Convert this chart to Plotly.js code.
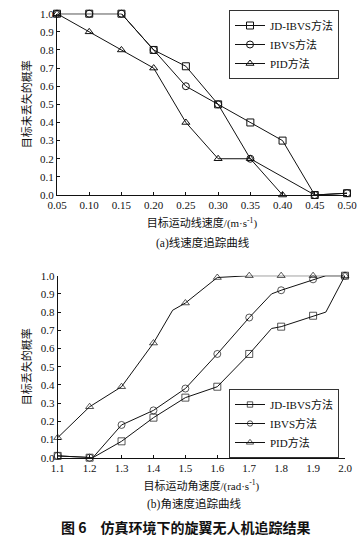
<!DOCTYPE html>
<html>
<head>
<meta charset="utf-8">
<script src="https://cdn.plot.ly/plotly-3.0.1.min.js"></script>
<style>html,body{margin:0;padding:0;background:#fff;}#chart{width:361px;height:548px;}</style>
</head>
<body>
<div id="chart"></div>
<script>
// ---- (a) linear speed: probability target is NOT lost ----
const speedX = [0.05, 0.10, 0.15, 0.20, 0.25, 0.30, 0.35, 0.40, 0.45, 0.50];
const aJdY = [1.0, 1.0, 1.0, 0.80, 0.71, 0.50, 0.40, 0.30, 0.0, 0.01];
const aIbvsX = [0.05, 0.10, 0.15, 0.20, 0.25, 0.30, 0.35, 0.45, 0.50];
const aIbvsY = [1.0, 1.0, 1.0, 0.80, 0.60, 0.50, 0.20, 0.0, 0.01];
const aPidX = [0.05, 0.10, 0.15, 0.20, 0.25, 0.30, 0.35, 0.40];
const aPidY = [1.0, 0.90, 0.80, 0.70, 0.40, 0.20, 0.20, 0.0];

// ---- (b) angular speed: probability target is lost ----
const bJdX = [1.1, 1.2, 1.21, 1.3, 1.4, 1.5, 1.6, 1.7, 1.77, 1.8, 1.9, 1.94, 2.0];
const bJdY = [0.01, 0.0, 0.0, 0.09, 0.22, 0.33, 0.39, 0.57, 0.71, 0.72, 0.78, 0.80, 1.0];
const bJdMarked = [1, 1, 0, 1, 1, 1, 1, 1, 0, 1, 1, 0, 1];
const bIbvsX = [1.1, 1.2, 1.21, 1.3, 1.4, 1.5, 1.6, 1.7, 1.77, 1.8, 1.9, 1.94, 2.0];
const bIbvsY = [0.01, 0.0, 0.0, 0.18, 0.26, 0.38, 0.57, 0.77, 0.90, 0.92, 0.98, 1.0, 1.0];
const bIbvsMarked = [1, 1, 0, 1, 1, 1, 1, 1, 0, 1, 1, 0, 1];
const bPidX = [1.1, 1.2, 1.3, 1.4, 1.46, 1.5, 1.6, 1.7, 1.8, 1.9, 2.0];
const bPidY = [0.11, 0.28, 0.39, 0.63, 0.81, 0.85, 0.99, 1.0, 1.0, 1.0, 1.0];
const bPidMarked = [1, 1, 1, 1, 0, 1, 1, 1, 1, 1, 1];

const seriesNames = ['JD-IBVS方法', 'IBVS方法', 'PID方法'];
const symbols = ['square-open', 'circle-open', 'triangle-up-open'];
const xTicksA = [0.05, 0.10, 0.15, 0.20, 0.25, 0.30, 0.35, 0.40, 0.45, 0.50];
const xTicksB = [1.1, 1.2, 1.3, 1.4, 1.5, 1.6, 1.7, 1.8, 1.9, 2.0];
const yTicks = [0, 0.1, 0.2, 0.3, 0.4, 0.5, 0.6, 0.7, 0.8, 0.9, 1.0];

const FONT = '"Liberation Serif", "Times New Roman", "Noto Sans CJK SC", serif';
const MS = 7;
function sizes(flags) { return flags.map(f => f ? MS : 0); }
function tr(x, y, i, xa, ya, leg, sz) {
  return {
    x: x, y: y, xaxis: xa, yaxis: ya, legend: leg,
    type: 'scatter', mode: 'lines+markers', name: seriesNames[i],
    cliponaxis: false,
    line: {color: '#111', width: 1},
    marker: {symbol: symbols[i], size: sz || MS, color: '#111', line: {color: '#111', width: 1}}
  };
}
const traces = [
  tr(speedX, aJdY, 0, 'x', 'y', 'legend'),
  tr(aIbvsX, aIbvsY, 1, 'x', 'y', 'legend'),
  tr(aPidX, aPidY, 2, 'x', 'y', 'legend'),
  tr(bJdX, bJdY, 0, 'x2', 'y2', 'legend2', sizes(bJdMarked)),
  tr(bIbvsX, bIbvsY, 1, 'x2', 'y2', 'legend2', sizes(bIbvsMarked)),
  tr(bPidX, bPidY, 2, 'x2', 'y2', 'legend2', sizes(bPidMarked))
];

const W = 361, H = 548;
function axisCommon() {
  return {
    showgrid: false, zeroline: false, showline: true, linecolor: '#111', linewidth: 1,
    ticks: 'inside', ticklen: 3, tickcolor: '#111', tickwidth: 1,
    tickfont: {family: FONT, size: 11, color: '#111'},
    automargin: false, fixedrange: true
  };
}
const legendCommon = {
  bgcolor: '#fff', bordercolor: '#333', borderwidth: 1,
  font: {family: FONT, size: 11, color: '#111'},
  itemwidth: 30, tracegroupgap: 0, xanchor: 'right', yanchor: 'top'
};

const layout = {
  width: W, height: H,
  margin: {l: 0, r: 0, t: 0, b: 0},
  paper_bgcolor: '#fff', plot_bgcolor: '#fff',
  showlegend: true,
  xaxis: Object.assign(axisCommon(), {
    domain: [57 / W, 347 / W], anchor: 'y', range: [0.05, 0.50],
    tickvals: xTicksA, tickformat: '.2f',
    title: {text: '目标运动线速度/(m·s<sup>-1</sup>)', font: {family: FONT, size: 11, color: '#111'}, standoff: 9}
  }),
  yaxis: Object.assign(axisCommon(), {
    domain: [1 - 195 / H, 1 - 13.7 / H], anchor: 'x', range: [0, 1],
    tickvals: yTicks, tickformat: '.1f',
    title: {text: '目标未丢失的概率', font: {family: FONT, size: 11, color: '#111'}, standoff: 6}
  }),
  xaxis2: Object.assign(axisCommon(), {
    domain: [57.7 / W, 345 / W], anchor: 'y2', range: [1.1, 2.0],
    tickvals: xTicksB, tickformat: '.1f',
    title: {text: '目标运动角速度/(rad·s<sup>-1</sup>)', font: {family: FONT, size: 11, color: '#111'}, standoff: 9}
  }),
  yaxis2: Object.assign(axisCommon(), {
    domain: [1 - 457.7 / H, 1 - 275.7 / H], anchor: 'x2', range: [0, 1],
    tickvals: yTicks, tickformat: '.1f',
    title: {text: '目标丢失的概率', font: {family: FONT, size: 11, color: '#111'}, standoff: 6}
  }),
  legend: Object.assign({}, legendCommon, {x: 339 / W, y: 1 - 10 / H}),
  legend2: Object.assign({}, legendCommon, {x: 339 / W, y: 1 - 389 / H}),
  annotations: [
    {xref: 'paper', yref: 'paper', x: 203 / W, y: 1 - 243 / H, xanchor: 'center', yanchor: 'middle',
     showarrow: false, text: '(a)线速度追踪曲线', font: {family: FONT, size: 11.5, color: '#111'}},
    {xref: 'paper', yref: 'paper', x: 194 / W, y: 1 - 504 / H, xanchor: 'center', yanchor: 'middle',
     showarrow: false, text: '(b)角速度追踪曲线', font: {family: FONT, size: 11.5, color: '#111'}},
    {xref: 'paper', yref: 'paper', x: 185 / W, y: 1 - 527 / H, xanchor: 'center', yanchor: 'middle',
     showarrow: false, text: '<b>图 6\u3000仿真环境下的旋翼无人机追踪结果</b>',
     font: {family: '"Noto Sans CJK SC", sans-serif', size: 14, color: '#111'}}
  ]
};

Plotly.newPlot('chart', traces, layout, {displayModeBar: false, staticPlot: true});
</script>
</body>
</html>
